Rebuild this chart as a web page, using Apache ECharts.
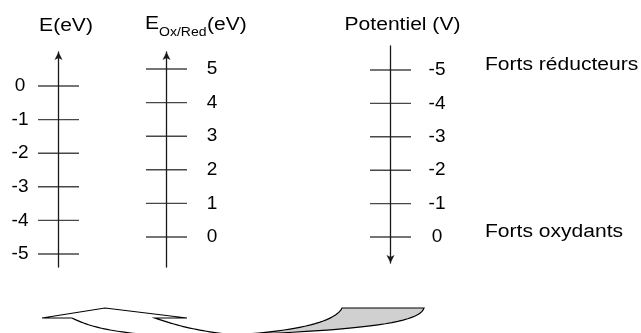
<!DOCTYPE html>
<html>
<head>
<meta charset="utf-8">
<script src="https://cdn.jsdelivr.net/npm/echarts@6/dist/echarts.min.js"></script>
<style>
html,body{margin:0;padding:0;background:#fff;}
#c{width:641px;height:333px;}
</style>
</head>
<body>
<div id="c"></div>
<script>
// ---- data ----
const ticksE = [0, -1, -2, -3, -4, -5];          // E(eV)
const ticksOxRed = [5, 4, 3, 2, 1, 0];           // E Ox/Red (eV)
const ticksPot = [-5, -4, -3, -2, -1, 0];        // Potentiel (V)
const titleE = 'E(eV)';
const titleOxRedMain = 'E';
const titleOxRedSub = 'Ox/Red';
const titleOxRedUnit = '(eV)';
const titlePot = 'Potentiel (V)';
const labelTop = 'Forts réducteurs';
const labelBottom = 'Forts oxydants';

const FONT = 'Liberation Sans, Arial, sans-serif';
const LINE = '#1a1a1a';
const SX = 1.17;

const chart = echarts.init(document.getElementById('c'), null, {renderer: 'canvas'});

function yAx(grid, ticks, min, max, position, margin, symbols, inverse) {
  return {
    gridIndex: grid, type: 'value', min: min, max: max, inverse: !!inverse,
    position: position, offset: -20.5,
    axisLine: {show: true, onZero: false, symbol: symbols, symbolSize: [6, 8],
      lineStyle: {color: LINE, width: 1.3}},
    axisTick: {show: false},
    splitLine: {show: false},
    axisLabel: {show: true, customValues: ticks, margin: margin, align: 'center',
      verticalAlign: 'middle',
      fontSize: 19, color: '#000', fontFamily: FONT,
      formatter: function (v) { return String(v); }}
  };
}
function tickSeries(i, ticks) {
  return {
    type: 'scatter', xAxisIndex: i, yAxisIndex: i, silent: true,
    symbol: 'rect', symbolSize: [41, 1.4],
    itemStyle: {color: LINE},
    data: ticks.map(function (v) { return [0, v]; })
  };
}
function txt(x, y, text, size, align) {
  return {type: 'text', x: x, y: y, scaleX: SX, silent: true,
    style: {text: text, fontSize: size, fontFamily: FONT, fill: '#000',
      align: align || 'left', verticalAlign: 'middle'}};
}
// builds polygon outline from line / cubic segments (decoration only)
function outline(start, segs) {
  const pts = [start.slice()];
  let cur = start;
  segs.forEach(function (s) {
    if (s.length === 2) { pts.push(s); cur = s; }
    else {
      const p0 = cur, p1 = s[0], p2 = s[1], p3 = s[2];
      for (let k = 1; k <= 24; k++) {
        const t = k / 24, u = 1 - t;
        pts.push([
          u*u*u*p0[0] + 3*u*u*t*p1[0] + 3*u*t*t*p2[0] + t*t*t*p3[0],
          u*u*u*p0[1] + 3*u*u*t*p1[1] + 3*u*t*t*p2[1] + t*t*t*p3[1]
        ]);
      }
      cur = p3;
    }
  });
  return pts;
}
const whiteArrow = outline([42, 318], [
  [105, 308], [187, 318], [155, 318],
  [[180, 327], [205, 332], [235, 335]],
  [235, 345], [140, 345], [140, 334],
  [[110, 331], [90, 327], [72, 318]]
]);
const grayTail = outline([342, 308], [
  [424, 308],
  [[420, 322], [370, 330], [230, 335]],
  [[290, 332], [335, 323], [342, 308]]
]);

const option = {
  animation: false,
  grid: [
    {left: 38, width: 41, top: 52, height: 215},
    {left: 146, width: 41, top: 52, height: 215},
    {left: 370, width: 41, top: 46, height: 217}
  ],
  xAxis: [0, 1, 2].map(function (i) {
    return {gridIndex: i, type: 'value', min: -1, max: 1, show: false};
  }),
  yAxis: [
    yAx(0, ticksE, -5.387, 1.012, 'left', 38.5, ['none', 'arrow']),
    yAx(1, ticksOxRed, -0.893, 5.506, 'right', 45.5, ['none', 'arrow']),
    yAx(2, ticksPot, -5.719, 0.778, 'right', 46.5, ['arrow', 'none'], true)
  ],
  series: [
    tickSeries(0, ticksE),
    tickSeries(1, ticksOxRed),
    tickSeries(2, ticksPot)
  ],
  graphic: [
    txt(66, 26.5, titleE, 18, 'center'),
    txt(145, 24.5, titleOxRedMain, 18),
    txt(159, 33, titleOxRedSub, 12),
    txt(207, 25.5, titleOxRedUnit, 18),
    txt(402.5, 25.5, titlePot, 18, 'center'),
    txt(485, 65, labelTop, 18),
    txt(485, 232, labelBottom, 18),
    {
      type: 'polygon', silent: true,
      shape: {points: whiteArrow},
      style: {fill: '#fff', stroke: '#000', lineWidth: 1.2}
    },
    {
      type: 'polygon', silent: true,
      shape: {points: grayTail},
      style: {fill: '#d0d0d0', stroke: '#000', lineWidth: 1.2}
    }
  ]
};
chart.setOption(option);
</script>
</body>
</html>
